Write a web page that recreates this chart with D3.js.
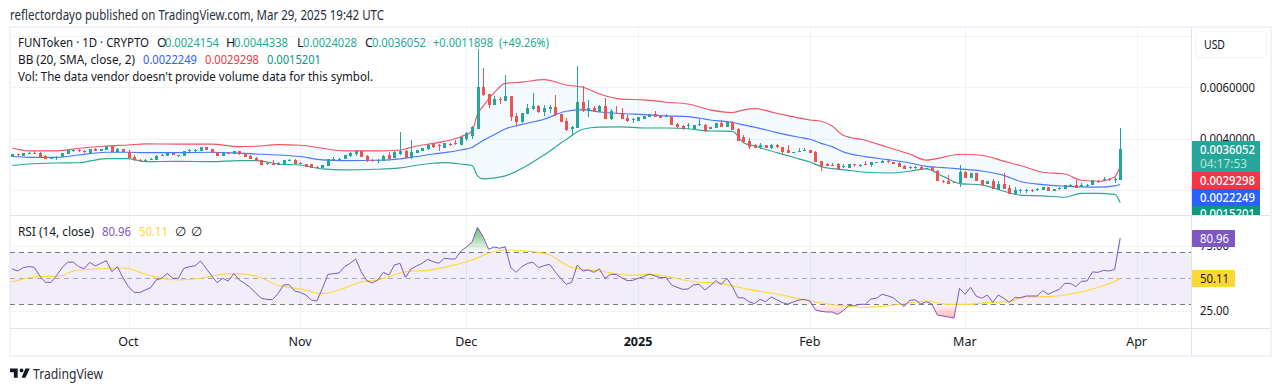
<!DOCTYPE html>
<html><head><meta charset="utf-8">
<script src="https://cdn.jsdelivr.net/npm/d3@7/dist/d3.min.js"></script>
<style>html,body{margin:0;padding:0;background:#fff;overflow:hidden}svg{display:block}text{font-family:"Noto Sans",sans-serif}</style>
</head><body><svg id="c" width="1281" height="391"></svg>
<script>
// Prices are in units of 0.0001. Rows are [open, high, low, close], one per day from 10 Sep 2024.
const sep2024=[[33.1,34.2,32.9,34.1],[34.0,34.2,33.1,33.9],[33.5,34.6,33.4,34.5],[34.2,34.9,34.1,34.4],[34.5,35.1,34.2,34.4],[34.6,34.9,32.8,33.1],[33.5,33.8,32.0,32.3],[32.3,32.8,32.2,32.8],[32.4,33.3,31.8,33.1],[33.1,34.5,33.1,34.5],[34.2,35.6,34.2,35.5],[35.3,36.0,34.9,35.7],[35.7,36.2,34.8,35.3],[35.3,35.7,34.6,35.1],[34.6,36.0,34.6,36.0],[36.0,36.4,35.4,35.4],[35.4,36.0,35.4,36.0],[35.7,37.0,35.7,37.0],[37.0,37.0,34.9,34.9],[35.0,36.3,35.0,35.9],[36.0,36.0,34.7,34.7]];
const oct2024=[[34.7,35.7,32.4,32.7],[32.9,33.7,31.5,31.6],[31.9,32.3,31.1,31.5],[31.5,32.0,31.1,31.6],[31.9,32.4,31.8,32.2],[31.8,33.7,31.8,33.5],[33.6,34.1,33.5,33.7],[33.5,34.6,33.5,34.6],[34.6,34.6,33.6,33.6],[33.6,33.7,33.1,33.7],[33.5,35.1,33.5,35.1],[35.5,36.2,35.0,35.7],[35.4,36.0,34.5,35.6],[35.3,36.8,35.3,36.8],[36.7,36.7,35.7,35.7],[35.9,35.9,34.5,34.5],[34.9,34.9,33.5,33.5],[33.5,34.4,33.5,34.4],[34.6,34.9,33.9,33.9],[33.9,35.1,33.9,35.1],[35.3,35.3,33.8,33.9],[34.4,34.4,33.1,33.1],[33.5,33.6,32.3,32.3],[32.7,32.8,31.5,31.5],[31.8,31.9,30.0,30.0],[30.5,30.6,30.0,30.1],[30.3,31.8,29.8,30.1],[29.7,30.8,29.7,30.7],[30.3,31.8,30.3,31.8],[31.5,32.2,31.4,31.8],[31.8,32.2,30.3,30.3]];
const nov2024=[[30.7,31.0,30.3,30.3],[30.2,30.3,28.9,28.9],[30.1,30.2,28.7,28.7],[29.0,29.3,28.7,28.7],[28.7,29.8,28.7,29.8],[29.6,32.1,29.5,32.0],[31.9,32.8,31.5,32.3],[32.1,32.6,31.5,32.3],[32.1,33.6,32.1,33.6],[33.2,34.9,33.1,34.6],[33.9,35.4,33.5,35.3],[35.3,35.4,32.8,32.8],[33.5,33.7,31.1,31.5],[31.9,32.2,31.0,31.4],[31.3,32.2,30.7,31.8],[31.5,33.8,31.5,33.5],[33.6,35.0,32.0,32.3],[32.7,35.1,32.7,35.0],[34.1,42.6,33.8,35.3],[35.3,35.5,32.5,32.5],[32.5,39.5,32.2,34.9],[34.4,35.8,34.4,35.8],[35.4,36.6,35.4,36.6],[35.9,38.1,35.7,37.6],[37.9,38.4,36.4,36.9],[37.6,37.9,35.4,37.1],[36.4,38.5,36.4,38.5],[38.1,38.2,37.3,37.9],[38.5,39.5,37.7,38.2],[37.6,40.8,37.6,40.8]];
const dec2024=[[39.8,42.8,39.1,42.1],[41.1,45.1,40.1,44.6],[43.9,74.9,43.9,60.1],[60.1,67.6,56.8,56.9],[57.4,57.5,52.1,53.3],[53.1,56.5,53.0,55.6],[55.6,56.3,53.6,55.5],[54.7,64.8,54.7,56.6],[56.6,56.6,46.9,48.3],[48.9,49.9,44.7,46.5],[46.5,50.1,46.0,50.1],[49.6,53.5,49.6,52.1],[51.4,57.6,51.0,52.7],[52.9,53.1,50.2,50.5],[50.3,53.1,49.0,52.1],[51.7,53.3,49.9,52.5],[52.2,57.0,48.9,49.4],[49.6,49.7,46.5,46.5],[46.9,47.9,43.0,43.4],[43.7,44.9,41.1,44.6],[44.3,68.3,44.1,54.3],[54.3,60.5,50.4,50.8],[50.8,55.1,48.6,52.0],[52.0,52.6,50.5,50.5],[50.5,53.1,50.4,52.7],[52.7,56.0,47.6,47.6],[47.6,51.4,47.3,50.9],[50.0,52.7,49.5,49.7],[49.9,51.8,47.7,47.7],[48.1,49.1,46.6,46.9],[47.2,48.0,46.3,47.6]];
const jan2025=[[46.9,48.3,46.8,48.3],[47.8,48.9,47.7,48.9],[48.6,49.6,48.6,49.6],[49.6,50.8,48.6,48.6],[49.0,49.1,48.2,48.2],[48.3,49.6,48.3,48.9],[48.6,48.7,45.5,45.5],[45.7,46.0,44.3,44.5],[45.0,45.2,43.5,43.9],[45.2,46.0,43.8,45.4],[43.7,45.4,43.7,45.4],[45.5,47.8,45.1,45.7],[45.5,45.7,42.8,43.0],[43.7,44.7,43.6,44.7],[44.1,46.0,44.1,46.0],[46.1,47.3,44.6,44.6],[44.6,46.4,44.6,46.4],[46.6,46.8,43.4,43.4],[43.9,44.0,39.2,39.2],[40.8,41.5,38.2,38.8],[39.0,40.2,36.2,36.7],[37.6,37.8,36.5,36.6],[36.7,38.2,36.2,37.6],[37.6,37.7,36.3,36.3],[36.4,37.8,36.2,37.7],[37.7,37.9,36.6,36.7],[36.8,36.9,34.1,35.0],[35.6,37.6,34.5,34.5],[34.5,35.0,34.4,35.0],[35.1,36.3,35.0,35.4],[35.2,36.3,35.2,35.5]];
const feb2025=[[35.6,35.7,34.4,34.4],[35.0,35.1,30.9,30.9],[31.4,31.5,27.6,29.6],[30.3,30.4,29.3,29.4],[30.0,30.5,29.4,29.7],[30.1,30.5,28.1,28.4],[29.1,30.2,28.7,29.3],[28.8,30.1,28.8,30.1],[30.1,30.2,28.9,29.9],[29.9,30.2,28.9,30.0],[30.2,31.5,29.9,29.9],[29.7,30.9,29.2,30.9],[30.9,31.1,30.6,31.0],[30.7,31.6,30.7,31.5],[31.3,31.7,30.7,31.1],[31.0,31.1,30.3,30.3],[30.7,30.8,29.2,29.2],[29.6,29.7,28.4,28.4],[28.7,29.4,28.4,29.0],[28.9,29.6,28.4,29.1],[29.0,29.8,28.0,28.0],[28.3,28.8,28.1,28.5],[28.9,29.0,27.4,27.4],[27.4,27.9,23.7,23.7],[23.7,23.8,22.7,23.4],[23.7,25.9,22.6,22.6],[23.2,23.3,22.7,22.7],[22.8,29.8,21.4,27.0]];
const mar2025=[[27.1,27.6,24.8,24.8],[24.9,26.6,24.9,26.6],[26.6,26.7,23.7,23.7],[23.9,24.0,21.7,21.9],[22.5,23.5,22.3,23.5],[23.6,24.3,20.4,20.4],[20.1,23.6,20.0,22.5],[22.5,26.6,20.6,20.6],[20.9,22.1,18.7,18.7],[18.4,21.3,18.3,20.1],[19.9,20.4,18.8,20.1],[19.9,20.5,19.1,20.1],[20.1,20.5,19.5,19.9],[20.2,21.0,19.9,20.4],[20.1,21.2,20.1,21.2],[21.2,21.3,19.7,19.7],[19.7,20.5,19.6,20.4],[20.5,21.4,20.1,20.8],[20.6,21.9,20.5,21.9],[21.8,22.3,21.2,22.0],[22.2,24.0,21.0,21.0],[21.2,22.7,21.1,21.9],[21.9,22.3,21.4,22.0],[22.1,23.9,22.0,23.9],[23.6,23.9,23.0,23.4],[24.2,25.2,23.6,24.4],[24.3,24.7,23.5,24.1],[24.1,25.0,22.8,24.3],[24.154,44.338,24.028,36.052]];

// Bollinger bands, at these day numbers (0 = 10 Sep 2024)
const bandDays=[0,3,8,12,17,21,24,30,36,41,44,48,52,56,60,66,70,73,76,78,81,83,84,85,87,89,92,96,100,103,106,110,114,118,122,126,130,132,134,138,142,144,146,148,150,154,158,162,165,168,171,175,179,182,186,190,193,196,199,200];
const bbUpper=[36.4,35.3,35.3,36.3,37.2,37.6,38.0,37.9,37.9,36.95,37.1,37.7,37.5,36.3,35.3,35.3,35.65,37.2,38.2,39.0,40.8,43.0,49.6,52.7,57.9,61.5,62.0,62.96,60.9,60.0,57.4,55.4,55.1,54.2,53.5,51.2,50.2,51.2,51.7,49.9,48.1,47.3,46.8,45.0,41.35,39.4,36.7,34.1,31.7,32.8,34.0,33.6,31.3,29.6,27.0,26.3,23.9,23.5,25.2,29.298];
const bbBasis=[33.1,32.8,32.8,33.7,34.75,34.75,34.6,34.6,34.75,34.4,34.1,33.7,33.1,31.8,31.5,31.65,32.2,33.1,34.1,34.6,35.66,36.6,38.0,39.3,41.6,43.8,45.6,47.6,50.7,51.3,50.4,49.8,49.4,48.9,48.6,47.3,46.3,45.4,44.5,42.4,40.6,39.8,38.2,36.95,34.9,33.07,31.9,30.6,29.3,28.8,28.3,27.5,25.8,23.4,22.2,21.6,21.3,21.2,21.7,22.249];
const bbLower=[29.6,30.2,30.6,30.7,32.3,32.3,31.1,31.25,31.1,31.5,31.5,30.2,29.8,28.3,27.9,28.15,28.7,29.7,30.48,30.74,30.2,29.6,25.6,24.4,24.8,25.6,28.5,33.7,39.7,43.7,44.5,44.6,44.2,44.2,43.9,43.0,42.9,38.5,37.2,34.6,32.2,31.0,29.2,28.4,28.0,27.0,26.7,27.4,28.3,25.4,22.6,22.1,19.6,18.1,17.8,17.3,18.8,18.8,18.4,15.201];

// RSI(14), one value per day
const rsiValues=[57.2,55.6,58.2,59,58.4,51.8,46.9,46.9,52,58.2,62.3,62.5,59,57.4,62.3,59.5,61.5,63.6,55.1,59,50.5,43.6,39.2,39,41,42.8,48.7,50,53.8,50,50,57.7,59,59.5,63.3,57.7,52,46.7,50,47.9,53.6,48.7,46.1,42.8,38.4,34.6,33.8,33.6,38.4,44.9,45.1,40.2,39.2,37.2,33.3,32.5,42.3,53,53.6,54.1,59,61.5,64.9,55.1,48.2,46.4,48.7,54.6,52.5,60.2,61.5,50.7,57.2,59.5,61.5,64.6,
62.8,61.5,65.4,64.9,64.9,71,74.1,77.7,89.2,82,72.3,74.1,73.1,74.3,58.2,54.6,59,61.5,62.3,58.2,59.7,60.8,55.1,50,45.4,46.9,60.2,55.6,56.4,54.6,57.2,50,53,53,50.5,48.2,48.4,50,51.3,53.3,51.8,50.5,50.7,44.9,43.1,41.5,41.8,44.9,45.4,41,44.1,48.2,45.4,50,43.6,35.1,34.9,32,30.5,33.8,32,35.6,33.6,31.3,30.2,31.8,33.3,33.8,32.5,25.6,24.6,24.1,24.1,22.3,25.1,29,
29,30,30,34.1,34.6,37.7,36.6,35.1,31.5,28.4,33,33.6,30.2,32,30.2,21.8,21,20.2,19.5,42.3,37.7,43,36.4,34.6,37.2,31.5,37.2,34.6,31.5,35.1,35.1,36.4,36.4,36.4,40.5,37.7,39.7,41.5,46.1,46.1,43.6,47.7,47.9,54.9,54.6,56.1,55.6,56.9,80.96];
const rsiMaDays=[0,4,9,11,15,20,25,30,34,37,40,44,48,52,56,59,63,66,71,75,79,83,86,89,94,97,101,106,112,115,118,123,128,133,138,144,151,153,157,161,165,169,172,176,180,183,187,192,196,199,200];
const rsiMa=[47.2,51,52,55.6,57.2,57.9,52,48.7,50,52.5,53.6,51.8,44.6,41.8,38.2,41,47.2,48.7,55.1,56.1,59.5,64.1,69.2,71.8,70.5,67.9,58.4,55.6,52.3,53,51.5,47.4,45.9,41.5,37.9,32.5,28.2,27.7,28.4,30.5,32.5,30,30,31.3,32.3,35.6,35.9,38.7,43,47.7,50.11];

const startDay=Date.UTC(2024,8,10);
const DAY=864e5;
const monthTicks=[[2024,9,1],[2024,10,1],[2024,11,1],[2025,0,1],[2025,1,1],[2025,2,1],[2025,3,1]].map(d=>new Date(Date.UTC(...d)));
const monthLabels=["Oct","Nov","Dec","2025","Feb","Mar","Apr"];
const priceGrid=[20,40,60,80];
const priceTicks=[40,60];
const priceTickText=v=>(v*1e-4).toFixed(7);
const rsiTicks=[25,75];
const rsiLevels=[70,50,30];
const titleText="reflectordayo published on TradingView.com, Mar 29, 2025 19:42 UTC";

const UP="#26a69a",DOWN="#ef5350",INK="#131722",GRID="#f0f3fa",EDGE="#e0e3eb";
const BLUE="#2962ff",RED="#f23645",TEAL="#089981",PURPLE="#7e57c2",YELLOW="#fdd835";
const L=10,R=1191,PT=27,PB=215,RT=216,RB=328;
const FS=12.5;
const candles=[...sep2024,...oct2024,...nov2024,...dec2024,...jan2025,...feb2025,...mar2025];
const dayDate=i=>new Date(startDay+i*DAY);
const x=d3.scaleUtc().domain([new Date(Date.UTC(2024,9,1)-21.39*DAY),new Date(Date.UTC(2024,9,1)+191.78*DAY)]).range([L,R]);
const y=d3.scaleLinear().domain([10.4,83.4]).range([PB,PT]);
const yr=d3.scaleLinear().domain([11.8,97.9]).range([RB,RT]);
const xd=i=>x(dayDate(i));
const svg=d3.select("#c");
const defs=svg.append("defs");
defs.append("clipPath").attr("id","pp").append("rect").attr("x",L).attr("y",PT).attr("width",R-L).attr("height",PB-PT);
defs.append("clipPath").attr("id","tagclip").append("rect").attr("x",R).attr("y",PT).attr("width",90).attr("height",PB-PT);
defs.append("clipPath").attr("id","ob").append("rect").attr("x",L).attr("y",RT).attr("width",R-L).attr("height",yr(70)-RT);
defs.append("clipPath").attr("id","os").append("rect").attr("x",L).attr("y",yr(30)).attr("width",R-L).attr("height",RB-yr(30));
const gu=defs.append("linearGradient").attr("id","gu").attr("gradientUnits","userSpaceOnUse").attr("x1",0).attr("x2",0).attr("y1",yr(89)).attr("y2",yr(70));
gu.append("stop").attr("offset",0).attr("stop-color","#4caf50").attr("stop-opacity",.85);
gu.append("stop").attr("offset",1).attr("stop-color","#4caf50").attr("stop-opacity",0);
const gd=defs.append("linearGradient").attr("id","gd").attr("gradientUnits","userSpaceOnUse").attr("x1",0).attr("x2",0).attr("y1",yr(30)).attr("y2",yr(19));
gd.append("stop").attr("offset",0).attr("stop-color","#ff5252").attr("stop-opacity",.05);
gd.append("stop").attr("offset",1).attr("stop-color","#ff5252").attr("stop-opacity",.45);

// frame
svg.append("rect").attr("x",10).attr("y",27).attr("width",1261).attr("height",329).attr("fill","#fff").attr("stroke",GRID).attr("stroke-width",2);

// grid
const grid=svg.append("g").attr("stroke",GRID).attr("stroke-width",1).attr("shape-rendering","crispEdges");
grid.selectAll(".v").data(monthTicks).join("line").attr("x1",d=>Math.round(x(d))+.5).attr("x2",d=>Math.round(x(d))+.5).attr("y1",PT).attr("y2",RB);
grid.selectAll(".h").data(priceGrid).join("line").attr("class","h").attr("x1",L).attr("x2",R).attr("y1",d=>Math.round(y(d))+.5).attr("y2",d=>Math.round(y(d))+.5);
grid.selectAll(".r").data(rsiTicks).join("line").attr("class","r").attr("x1",L).attr("x2",R).attr("y1",d=>Math.round(yr(d))+.5).attr("y2",d=>Math.round(yr(d))+.5);

// Bollinger bands
const pricePane=svg.append("g").attr("clip-path","url(#pp)");
const curve=d3.curveMonotoneX;
pricePane.append("path").datum(bandDays).attr("fill","#2196f3").attr("fill-opacity",.05)
 .attr("d",d3.area().curve(curve).x(d=>xd(d)).y0((d,i)=>y(bbLower[i])).y1((d,i)=>y(bbUpper[i])));
[[bbLower,TEAL],[bbUpper,RED],[bbBasis,BLUE]].forEach(([s,c])=>{
 pricePane.append("path").datum(bandDays).attr("fill","none").attr("stroke",c).attr("stroke-width",1.15).attr("stroke-opacity",.85)
  .attr("d",d3.line().curve(curve).x(d=>xd(d)).y((d,i)=>y(s[i])));
});
// candles
const cg=pricePane.append("g").attr("shape-rendering","crispEdges");
const candle=cg.selectAll("g").data(candles).join("g").attr("fill",d=>d[3]>=d[0]?UP:DOWN);
candle.append("rect").attr("x",(d,i)=>Math.round(xd(i))).attr("width",1).attr("y",d=>y(d[1])).attr("height",d=>Math.max(1,y(d[2])-y(d[1])));
candle.append("rect").attr("x",(d,i)=>Math.round(xd(i))-1).attr("width",3)
 .attr("y",d=>y(Math.max(d[0],d[3]))).attr("height",d=>Math.max(1,Math.abs(y(d[0])-y(d[3]))));

// RSI pane
svg.append("rect").attr("x",L).attr("width",R-L).attr("y",yr(70)).attr("height",yr(30)-yr(70)).attr("fill",PURPLE).attr("fill-opacity",.1);
svg.append("g").selectAll("line").data(rsiLevels).join("line").attr("x1",L).attr("x2",R).attr("y1",d=>Math.round(yr(d))+.5).attr("y2",d=>Math.round(yr(d))+.5)
 .attr("stroke","#787b86").attr("stroke-opacity",d=>d===50?.6:1).attr("stroke-dasharray","5 4").attr("shape-rendering","crispEdges");
const rsiIdx=rsiValues.map((d,i)=>i);
svg.append("path").datum(rsiIdx).attr("clip-path","url(#ob)").attr("fill","url(#gu)").attr("d",d3.area().x(i=>xd(i)).y0(yr(70)).y1(i=>yr(rsiValues[i])));
svg.append("path").datum(rsiIdx).attr("clip-path","url(#os)").attr("fill","url(#gd)").attr("d",d3.area().x(i=>xd(i)).y0(yr(30)).y1(i=>yr(rsiValues[i])));
svg.append("path").datum(rsiMaDays).attr("fill","none").attr("stroke",YELLOW).attr("stroke-width",1.1).attr("d",d3.line().curve(curve).x(d=>xd(d)).y((d,i)=>yr(rsiMa[i])));
svg.append("path").datum(rsiIdx).attr("fill","none").attr("stroke",PURPLE).attr("stroke-width",1).attr("d",d3.line().x(i=>xd(i)).y(i=>yr(rsiValues[i])));

// pane rules
const rule=(x1,y1,x2,y2,w)=>svg.append("line").attr("x1",x1).attr("y1",y1).attr("x2",x2).attr("y2",y2).attr("stroke",EDGE).attr("stroke-width",w).attr("shape-rendering","crispEdges");
rule(L,215.5,1270,215.5,1);
rule(L,328.5,1270,328.5,1);
rule(1191.5,28,1191.5,355,1);

// axes
const axisText=s=>s.attr("font-family",'"Noto Sans",sans-serif').attr("font-size",FS).attr("fill",INK);
const xAxis=d3.axisBottom(x).tickValues(monthTicks).tickSize(0).tickFormat((d,i)=>monthLabels[i]);
const xg=svg.append("g").attr("transform","translate(-0.7,334)").call(xAxis);
xg.select(".domain").remove();xg.selectAll("text").call(axisText).attr("font-weight",(d,i)=>monthLabels[i]==="2025"?700:400);
const pAxis=d3.axisRight(y).tickValues(priceTicks).tickSize(0).tickPadding(9).tickFormat(priceTickText);
const pg=svg.append("g").attr("transform",`translate(${R},0)`).call(pAxis);
pg.select(".domain").remove();pg.selectAll("text").call(axisText).attr("textLength",55).attr("lengthAdjust","spacingAndGlyphs");
const rAxis=d3.axisRight(yr).tickValues(rsiTicks).tickSize(0).tickPadding(9).tickFormat(d=>d.toFixed(2));
const rg=svg.append("g").attr("transform",`translate(${R},0)`).call(rAxis);
rg.select(".domain").remove();rg.selectAll("text").call(axisText).attr("textLength",29).attr("lengthAdjust","spacingAndGlyphs");

// text helper
function T(px,py,str,fill,size,len){const t=svg.append("text").attr("x",px).attr("y",py).attr("dominant-baseline","central").attr("font-size",size||FS).attr("fill",fill||INK).text(str);
 if(len)t.attr("textLength",len).attr("lengthAdjust","spacingAndGlyphs");return t;}

T(10,15,titleText,"#2a2e39",13.5,374);
const lgreen="#22ab94";
T(18,42,"FUNToken · 1D · CRYPTO",INK,FS,131);
[["O",157,"0.0024154",165],["H",226,"0.0044338",234],["L",297,"0.0024028",303],["C",365,"0.0036052",372]].forEach(([a,xa,b,xb])=>{T(xa,42,a,INK,FS);T(xb,42,b,lgreen,FS,54);});
T(433,42,"+0.0011898",lgreen,FS,60);T(499,42,"(+49.26%)",lgreen,FS,50);
T(18,59,"BB (20, SMA, close, 2)",INK,FS,117);
T(143,59,"0.0022249",BLUE,FS,54);T(205,59,"0.0029298",RED,FS,54);T(267,59,"0.0015201",TEAL,FS,54);
T(18,76,"Vol: The data vendor doesn't provide volume data for this symbol.",INK,FS,355);
T(18,231,"RSI (14, close)",INK,FS,76);
T(102,231,"80.96",PURPLE,FS,29);T(139,231,"50.11",YELLOW,FS,29);T(175,231,"∅",INK,FS);T(191,231,"∅",INK,FS);

// USD box
svg.append("rect").attr("x",1195.5).attr("y",31.5).attr("width",71).attr("height",26).attr("rx",4).attr("fill","#fff").attr("stroke",GRID).attr("stroke-width",1);
T(1204,44,"USD",INK,FS,21);

// price tags
const tags=svg.append("g").attr("clip-path","url(#tagclip)");
const tag=(ty,h,c,txt)=>{tags.append("rect").attr("x",1192).attr("y",ty).attr("width",68).attr("height",h).attr("fill",c);
 tags.append("text").attr("x",1200).attr("y",ty+8.5).attr("dominant-baseline","central").attr("font-size",FS).attr("font-weight",500).attr("fill","#fff").attr("textLength",55).attr("lengthAdjust","spacingAndGlyphs").text(txt);};
tag(205,17,TEAL,"0.0015201");
tag(141,31,"#26a69a","0.0036052");
tags.append("text").attr("x",1200).attr("y",163).attr("dominant-baseline","central").attr("font-size",FS).attr("fill","#fff").attr("fill-opacity",.7).attr("textLength",47).attr("lengthAdjust","spacingAndGlyphs").text("04:17:53");
tag(172,17,RED,"0.0029298");
tag(189,17,BLUE,"0.0022249");
const rt=(ty,c,f,txt)=>{svg.append("rect").attr("x",1192).attr("y",ty).attr("width",43).attr("height",17).attr("rx",1).attr("fill",c);
 T(1200,ty+8.5,txt,f,FS,29);};
rt(230,PURPLE,"#fff","80.96");
rt(270,YELLOW,INK,"50.11");

// logo
svg.append("path").attr("transform","translate(10,368.5) scale(.55)").attr("fill",INK).attr("d","M14 0H0v7h7v10h7V0Zm14 17h-7L28 0h8l-8 17Zm-7-10a3.5 3.5 0 1 0 0-7 3.5 3.5 0 0 0 0 7Z");
T(33,373,"TradingView","#2a2e39",14,70);
</script></body></html>
